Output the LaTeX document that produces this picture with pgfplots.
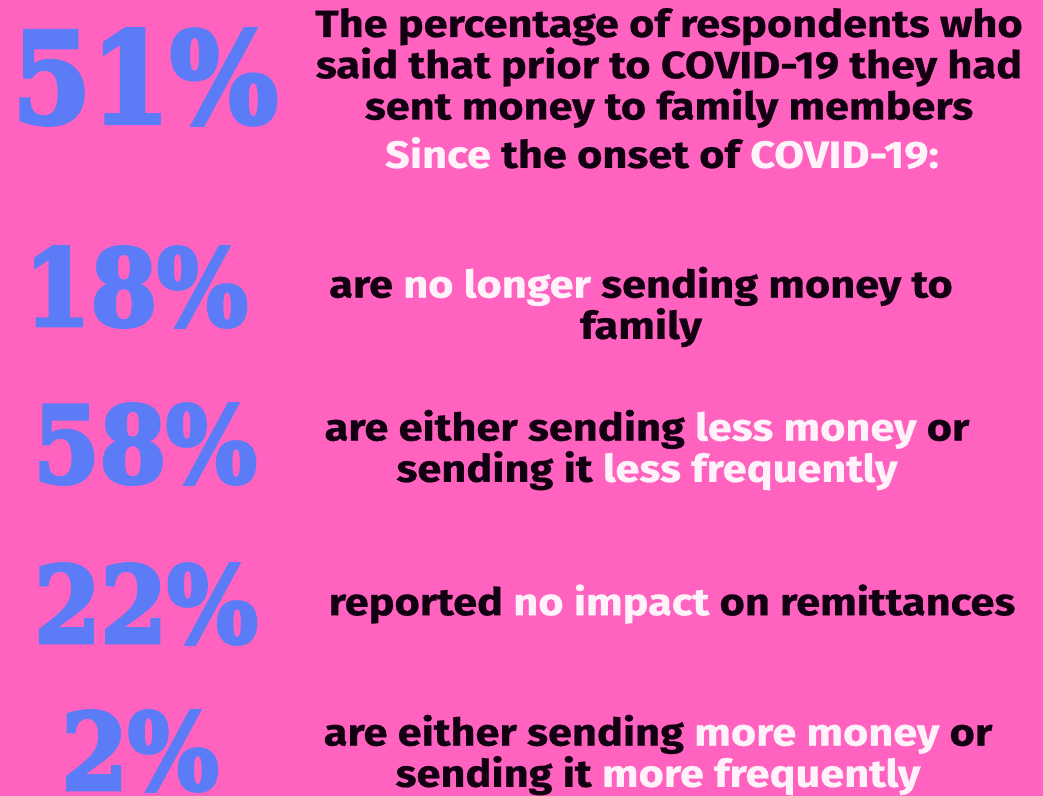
\documentclass[border=0pt]{standalone}
\usepackage{pgfplots}
\pgfplotsset{compat=1.18}
\usepackage{fontspec}
\setmainfont{Fira Sans}[FakeStretch=1.14, BoldFeatures={FakeBold=0.6}]
\newfontfamily\numfont{DejaVu Serif}[FakeStretch=0.9, BoldFeatures={FakeBold=3.5}]
\definecolor{bgpink}{HTML}{FF62BF}
\definecolor{numblue}{HTML}{5B7BF7}
\definecolor{txtblack}{HTML}{120012}
\definecolor{txtwhite}{HTML}{FFF2FA}
\newcommand{\w}[1]{\textcolor{txtwhite}{#1}}
\begin{document}
\begin{tikzpicture}
\begin{axis}[name=ax,
  scale only axis, width=521.5pt, height=398pt,
  xmin=0, xmax=1043, ymin=0, ymax=796, y dir=reverse,
  axis line style={draw=none}, ticks=none,
  axis background/.style={fill=bgpink},
  /pgf/number format/assume math mode=true,
  clip=false]
% headline figure
\addplot[only marks, mark=none, point meta=explicit,
  nodes near coords={\pgfmathprintnumber{\pgfplotspointmeta}\%},
  every node near coord/.append style={anchor=center, inner sep=0pt,
    font=\numfont\bfseries\fontsize{63}{63}\selectfont, text=numblue}]
  table[meta=v] {
x y v
145 77 51
};
% other figures
\addplot[only marks, mark=none, point meta=explicit,
  nodes near coords={\pgfmathprintnumber{\pgfplotspointmeta}\%},
  every node near coord/.append style={anchor=center, inner sep=0pt,
    font=\numfont\bfseries\fontsize{53}{53}\selectfont, text=numblue}]
  table[meta=v] {
x y v
136 287 18
145 444 58
146 604 22
140 751 2
};
\begin{scope}[every node/.style={align=center, inner sep=0pt, text=txtblack,
    font=\bfseries\fontsize{19}{18.5}\selectfont}]
\node at (669,68) {The percentage of respondents who\\said that prior to COVID-19 they had\\sent money to family members};
\node at (662,153) {\w{Since} the onset of \w{COVID-19:}};
\node at (641,307) {are \w{no longer} sending money to\\family};
\node at (647,450) {are either sending \w{less money} or\\sending it \w{less frequently}};
\node at (672,604) {reported \w{no impact} on remittances};
\node at (658,755) {are either sending \w{more money} or\\sending it \w{more frequently}};
\end{scope}
\end{axis}
\pgfresetboundingbox
\path[use as bounding box] (ax.south west) rectangle (ax.north east);
\end{tikzpicture}
\end{document}
